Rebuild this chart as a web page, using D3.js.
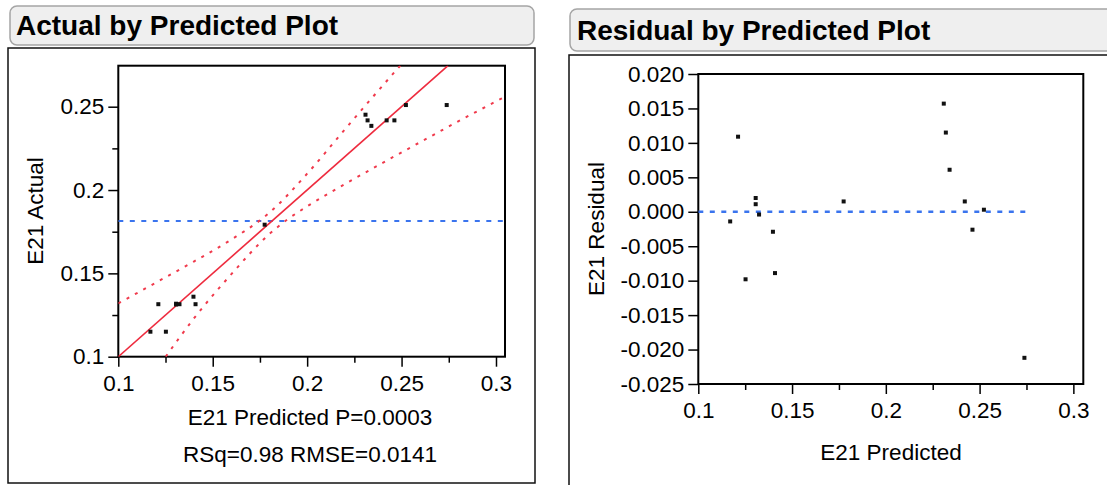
<!DOCTYPE html>
<html>
<head>
<meta charset="utf-8">
<script src="https://cdn.jsdelivr.net/npm/d3@7"></script>
<style>
  html, body { margin: 0; padding: 0; background: #fff; }
  svg { display: block; font-family: "Liberation Sans", Arial, sans-serif; }
</style>
</head>
<body>
<svg id="chart" width="1107" height="485"></svg>
<script>
// ---------------- data ----------------
const predicted = [0.1170, 0.1212, 0.1252, 0.1306, 0.1306, 0.1324, 0.1398, 0.1409,
                   0.1775, 0.2309, 0.2320, 0.2340, 0.2421, 0.2462, 0.2523, 0.2739];
const actual    = [0.1150, 0.1315, 0.1150, 0.1318, 0.1313, 0.1315, 0.1360, 0.1315,
                   0.1792, 0.2452, 0.2418, 0.2385, 0.2418, 0.2418, 0.2510, 0.2510];
const residual  = [-0.0014, 0.0109, -0.0098, 0.0020, 0.0011, -0.0004, -0.0029, -0.0089,
                   0.0015, 0.0157, 0.0115, 0.0061, 0.0015, -0.0026, 0.0003, -0.0212];
const meanActual = 0.1814;
const fitLineX = [0.1, 0.2746];
const fitLineY = [0.1, 0.2746];
const upperCurveX = [0.100, 0.120, 0.140, 0.160, 0.175, 0.180, 0.200, 0.220, 0.246, 0.250];
const upperCurveY = [0.132, 0.1445, 0.1571, 0.1704, 0.1818, 0.1864, 0.2098, 0.2364, 0.2704, 0.2755];
const lowerCurveX = [0.1251, 0.140, 0.160, 0.180, 0.190, 0.200, 0.220, 0.240, 0.260, 0.280, 0.3048];
const lowerCurveY = [0.1000, 0.1229, 0.1497, 0.1736, 0.1827, 0.1902, 0.2036, 0.2163, 0.2288, 0.2412, 0.2560];
const residualZeroX = [0.1, 0.2751];

const xTicks = [0.1, 0.15, 0.2, 0.25, 0.3];
const xTickLabels = ["0.1", "0.15", "0.2", "0.25", "0.3"];
const xMinorTicks = [0.125, 0.175, 0.225, 0.275];
const leftYTicks = [0.1, 0.15, 0.2, 0.25];
const leftYTickLabels = ["0.1", "0.15", "0.2", "0.25"];
const leftYMinorTicks = [0.125, 0.175, 0.225];
const rightYTicks = [0.020, 0.015, 0.010, 0.005, 0.000, -0.005, -0.010, -0.015, -0.020, -0.025];
const rightYTickLabels = ["0.020", "0.015", "0.010", "0.005", "0.000", "-0.005", "-0.010", "-0.015", "-0.020", "-0.025"];

// ---------------- drawing ----------------
const svg = d3.select("#chart");
const FONT = 22.5;

function titleBar(x, y, w, h, text, tx, ty) {
  svg.append("rect").attr("x", x).attr("y", y).attr("width", w).attr("height", h)
    .attr("rx", 7).attr("ry", 7)
    .attr("fill", "#efefef").attr("stroke", "#a5a5a5").attr("stroke-width", 1.5);
  svg.append("text").attr("x", tx).attr("y", ty).text(text)
    .attr("font-size", 28).attr("font-weight", "bold").attr("fill", "#000");
}

function frame(x, y, w, h) {
  svg.append("rect").attr("x", x).attr("y", y).attr("width", w).attr("height", h)
    .attr("fill", "none").attr("stroke", "#111").attr("stroke-width", 1.5);
}

function styleAxis(g) {
  g.selectAll("path.domain").remove();
  g.selectAll("line").attr("stroke", "#000").attr("stroke-width", 1.5);
  g.selectAll("text").attr("font-size", FONT).attr("fill", "#000")
    .attr("font-family", "'Liberation Sans', Arial, sans-serif");
}

function drawPanel(opts) {
  const { x, y, xTickVals, xLabels, yTickVals, yLabels, yMinor, clipId } = opts;
  const [x0, x1] = x.range();
  const [y0, y1] = y.range(); // y0 bottom, y1 top

  // plot border
  svg.append("rect").attr("x", x0).attr("y", y1).attr("width", x1 - x0).attr("height", y0 - y1)
    .attr("fill", "none").attr("stroke", "#000").attr("stroke-width", 2);

  // x axis major
  const gx = svg.append("g").attr("transform", `translate(0,${y0})`)
    .call(d3.axisBottom(x).tickValues(xTickVals).tickSize(10).tickPadding(4)
      .tickFormat((d, i) => xLabels[i]));
  styleAxis(gx);
  gx.selectAll("text").attr("dy", "0.9em");
  // x axis minor
  const gxm = svg.append("g").attr("transform", `translate(0,${y0})`)
    .call(d3.axisBottom(x).tickValues(xMinorTicks).tickSize(6).tickFormat(""));
  styleAxis(gxm);

  // y axis major
  const gy = svg.append("g").attr("transform", `translate(${x0},0)`)
    .call(d3.axisLeft(y).tickValues(yTickVals).tickSize(10).tickPadding(4)
      .tickFormat((d, i) => yLabels[i]));
  styleAxis(gy);
  if (yMinor) {
    const gym = svg.append("g").attr("transform", `translate(${x0},0)`)
      .call(d3.axisLeft(y).tickValues(yMinor).tickSize(6).tickFormat(""));
    styleAxis(gym);
  }

  svg.append("clipPath").attr("id", clipId).append("rect")
    .attr("x", x0).attr("y", y1).attr("width", x1 - x0).attr("height", y0 - y1);
}

// ---- Left panel: Actual by Predicted ----
titleBar(10, 6, 524, 39, "Actual by Predicted Plot", 16, 35);
frame(8, 48, 527, 435);

const xL = d3.scaleLinear().domain([0.1, 0.30477]).range([118.3, 505]);
const yL = d3.scaleLinear().domain([0.1, 0.2746]).range([356.7, 65.7]);
drawPanel({ x: xL, y: yL, xTickVals: xTicks, xLabels: xTickLabels,
            yTickVals: leftYTicks, yLabels: leftYTickLabels, yMinor: leftYMinorTicks, clipId: "clipL" });

const gL = svg.append("g").attr("clip-path", "url(#clipL)");
// mean line
gL.append("line").attr("x1", xL.range()[0]).attr("x2", xL.range()[1])
  .attr("y1", yL(meanActual)).attr("y2", yL(meanActual))
  .attr("stroke", "#3a74ee").attr("stroke-width", 2).attr("stroke-dasharray", "5,6.5");
// confidence curves
const lineGen = d3.line().curve(d3.curveMonotoneX);
gL.append("path").attr("d", lineGen(upperCurveX.map((v, i) => [xL(v), yL(upperCurveY[i])])))
  .attr("fill", "none").attr("stroke", "#f03a4c").attr("stroke-width", 2).attr("stroke-dasharray", "3,6.5");
gL.append("path").attr("d", lineGen(lowerCurveX.map((v, i) => [xL(v), yL(lowerCurveY[i])])))
  .attr("fill", "none").attr("stroke", "#f03a4c").attr("stroke-width", 2).attr("stroke-dasharray", "3,6.5");
// fit line
gL.append("path").attr("d", d3.line()(fitLineX.map((v, i) => [xL(v), yL(fitLineY[i])])))
  .attr("fill", "none").attr("stroke", "#ee2b3e").attr("stroke-width", 1.6);
// points
gL.selectAll("rect.pt").data(predicted).enter().append("rect").attr("class", "pt")
  .attr("x", (d) => xL(d) - 2).attr("y", (d, i) => yL(actual[i]) - 2)
  .attr("width", 4).attr("height", 4).attr("fill", "#111");

svg.append("text").attr("x", 35).attr("y", 211).attr("transform", "rotate(-90,35,211)")
  .attr("text-anchor", "middle").attr("dy", "0.35em").attr("font-size", FONT).text("E21 Actual");
svg.append("text").attr("x", 310).attr("y", 425).attr("text-anchor", "middle")
  .attr("font-size", FONT).text("E21 Predicted P=0.0003");
svg.append("text").attr("x", 310).attr("y", 462).attr("text-anchor", "middle")
  .attr("font-size", FONT).text("RSq=0.98 RMSE=0.0141");

// ---- Right panel: Residual by Predicted ----
titleBar(570, 9, 545, 42, "Residual by Predicted Plot", 577, 40);
frame(569, 55, 550, 445);

const xR = d3.scaleLinear().domain([0.1, 0.3053]).range([698.3, 1083.3]);
const yR = d3.scaleLinear().domain([-0.025, 0.020]).range([384, 74]);
drawPanel({ x: xR, y: yR, xTickVals: xTicks, xLabels: xTickLabels,
            yTickVals: rightYTicks, yLabels: rightYTickLabels, yMinor: null, clipId: "clipR" });

const gR = svg.append("g").attr("clip-path", "url(#clipR)");
gR.append("line").attr("x1", xR(residualZeroX[0])).attr("x2", xR(residualZeroX[1]))
  .attr("y1", yR(0)).attr("y2", yR(0))
  .attr("stroke", "#3a74ee").attr("stroke-width", 2.5).attr("stroke-dasharray", "5,6.5");
gR.selectAll("rect.pt").data(predicted).enter().append("rect").attr("class", "pt")
  .attr("x", (d) => xR(d) - 2).attr("y", (d, i) => yR(residual[i]) - 2)
  .attr("width", 4).attr("height", 4).attr("fill", "#111");

svg.append("text").attr("x", 596).attr("y", 229).attr("transform", "rotate(-90,596,229)")
  .attr("text-anchor", "middle").attr("dy", "0.35em").attr("font-size", FONT).text("E21 Residual");
svg.append("text").attr("x", 891).attr("y", 460).attr("text-anchor", "middle")
  .attr("font-size", FONT).text("E21 Predicted");
</script>
</body>
</html>
